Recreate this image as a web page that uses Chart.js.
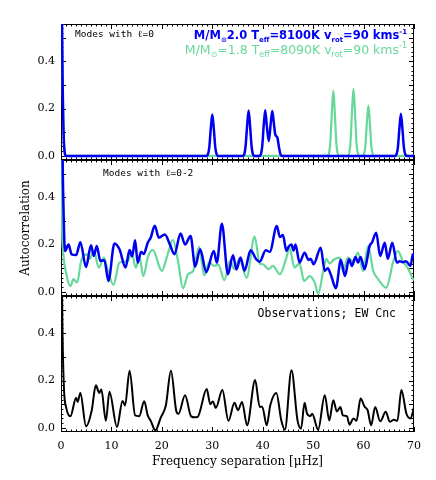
<!DOCTYPE html>
<html>
<head>
<meta charset="utf-8">
<script src="https://cdn.jsdelivr.net/npm/chart.js@4"></script>
<style>
  body { margin: 0; background: #fff; }
  #wrap { position: relative; width: 436px; height: 480px; }
  #wrap canvas { position: absolute; left: 0; }
</style>
</head>
<body>
<div id="wrap">
  <canvas id="panelL0" width="436" height="175" style="top:0px"></canvas>
  <canvas id="panelL02" width="436" height="166" style="top:145px"></canvas>
  <canvas id="panelObs" width="436" height="199" style="top:281px"></canvas>
</div>
<script>
// axis ticks
const xTickVals = [0, 10, 20, 30, 40, 50, 60, 70];
const yTickVals = [0.0, 0.2, 0.4];

// panel 1: modes with l=0
const l0BlueFreq = [0, 0.3, 0.6, 1.0, 28.8, 29.1, 29.4, 29.7, 30.0, 30.3, 30.6, 30.9, 31.2,
  36.0, 36.3, 36.6, 36.9, 37.2, 37.5, 37.8, 38.1, 38.4,
  39.3, 39.6, 39.9, 40.2, 40.5, 40.8, 41.2, 41.6, 41.9, 42.2, 42.5, 42.9, 43.2, 43.5, 43.9,
  66.2, 66.5, 66.8, 67.1, 67.4, 67.7, 68.0, 68.3, 68.6, 70];
const l0BlueAcf = [1.0, 0.35, 0.05, 0, 0, 0.005, 0.035, 0.115, 0.175, 0.115, 0.035, 0.005, 0,
  0, 0.005, 0.04, 0.125, 0.192, 0.125, 0.04, 0.005, 0,
  0, 0.005, 0.04, 0.13, 0.193, 0.13, 0.063, 0.14, 0.19, 0.14, 0.09, 0.078, 0.04, 0.008, 0,
  0, 0.005, 0.035, 0.115, 0.178, 0.115, 0.035, 0.005, 0, 0];
const l0GreenFreq = [0, 0.3, 0.6, 1.0, 52.8, 53.1, 53.4, 53.7, 54.0, 54.3, 54.6, 54.9, 55.2,
  56.8, 57.1, 57.4, 57.7, 58.0, 58.3, 58.6, 58.9, 59.2,
  59.75, 60.05, 60.35, 60.65, 60.95, 61.25, 61.55, 61.85, 62.15, 70];
const l0GreenAcf = [1.0, 0.35, 0.05, 0, 0, 0.008, 0.055, 0.18, 0.276, 0.18, 0.055, 0.008, 0,
  0, 0.008, 0.055, 0.185, 0.283, 0.185, 0.055, 0.008, 0,
  0, 0.006, 0.04, 0.14, 0.213, 0.14, 0.04, 0.006, 0, 0];

// panel 2: modes with l=0-2
const l02BlueFreq = [0, 0.4, 0.8, 1.5, 2.1, 3.0, 3.84, 4.96, 5.95, 6.5, 7.1, 7.8, 8.6, 9.4,
  10.6, 11.6, 12.8, 13.6, 14.1, 14.7, 15.2, 15.9, 16.4, 17.2, 17.8, 18.6, 19.4, 20.6,
  21.6, 22.5, 23.7, 24.6, 25.7, 26.6, 27.6, 28.8, 30.3, 30.9, 31.9, 33.1, 34.1, 34.8,
  35.6, 36.4, 37.6, 38.7, 39.4, 40.6, 41.4, 42.8, 43.4, 44.0, 44.7, 45.1, 45.7, 46.1,
  46.5, 47.3, 48.3, 49.1, 49.5, 50.1, 51.5, 52.3, 52.9, 53.6, 54.5, 55.5, 56.3, 57.1,
  57.7, 58.4, 58.9, 59.4, 60.2, 61.2, 61.7, 62.5, 63.3, 64.2, 64.8, 65.7, 66.6, 67.2,
  67.8, 68.4, 69.3, 69.8, 70];
const l02BlueAcf = [1.0, 0.45, 0.173, 0.20, 0.159, 0.156, 0.21, 0.105, 0.197, 0.152, 0.194, 0.131, 0.134, 0.046,
  0.205, 0.18, 0.103, 0.177, 0.15, 0.218, 0.124, 0.17, 0.16, 0.208, 0.23, 0.28, 0.229, 0.243,
  0.2, 0.159, 0.247, 0.2, 0.236, 0.107, 0.18, 0.084, 0.173, 0.124, 0.288, 0.075, 0.155, 0.095,
  0.145, 0.09, 0.176, 0.138, 0.128, 0.176, 0.17, 0.278, 0.232, 0.24, 0.173, 0.19, 0.2, 0.175,
  0.2, 0.124, 0.166, 0.135, 0.14, 0.117, 0.187, 0.089, 0.1, 0.067, 0.016, 0.135, 0.067, 0.138,
  0.11, 0.148, 0.124, 0.148, 0.096, 0.194, 0.21, 0.25, 0.152, 0.208, 0.14, 0.208, 0.124, 0.13,
  0.125, 0.13, 0.11, 0.159, 0.14];
const l02GreenFreq = [0, 0.2, 0.4, 1.07, 1.86, 2.5, 3.2, 4.0, 5.2, 5.7, 6.5, 7.5, 8.5, 9.3,
  10.4, 11.6, 13.3, 14.0, 14.8, 15.6, 16.3, 17.3, 18.2, 20.0, 21.1, 22.2, 23.2, 24.2,
  25.2, 26.2, 27.4, 28.4, 29.4, 30.4, 31.2, 32.4, 33.5, 34.4, 35.4, 36.8, 38.4, 39.4,
  40.0, 41.2, 42.0, 43.4, 44.7, 45.3, 46.3, 47.3, 48.2, 49.3, 50.3, 51.0, 52.0, 52.6,
  53.3, 54.0, 55.3, 55.9, 56.9, 57.9, 58.9, 59.9, 60.9, 61.9, 62.9, 64.5, 65.9, 66.8,
  67.8, 68.8, 69.8, 70];
const l02GreenAcf = [1.0, 0.3, 0.18, 0.075, 0.025, 0.054, 0.04, 0.131, 0.159, 0.14, 0.173, 0.103, 0.145, 0.09,
  0.03, 0.124, 0.131, 0.17, 0.103, 0.145, 0.067, 0.152, 0.178, 0.089, 0.155, 0.22, 0.131, 0.016,
  0.075, 0.089, 0.19, 0.07, 0.125, 0.11, 0.115, 0.05, 0.131, 0.096, 0.14, 0.06, 0.234, 0.12,
  0.117, 0.096, 0.11, 0.075, 0.145, 0.187, 0.103, 0.12, 0.046, 0.067, 0.04, -0.008, 0.089, 0.14,
  0.12, 0.135, 0.145, 0.089, 0.145, 0.13, 0.166, 0.089, 0.194, 0.09, 0.054, 0.018, 0.13, 0.173,
  0.13, 0.1, 0.054, 0.05];

// panel 3: observations EW Cnc
const obsFreq = [0, 0.3, 0.6, 1.0, 1.86, 3.0, 3.3, 3.84, 4.96, 6.1, 6.9, 7.6, 8.0, 8.9, 9.6,
  11.1, 12.2, 12.7, 13.6, 14.7, 15.5, 16.5, 17.2, 17.8, 18.7, 19.8, 20.8, 21.8, 22.9,
  23.3, 24.6, 25.8, 26.5, 27.1, 28.9, 29.6, 30.1, 30.7, 32.0, 33.2, 34.4, 35.1, 35.9,
  36.9, 38.5, 39.4, 39.9, 40.8, 41.5, 42.7, 43.7, 44.4, 45.7, 46.9, 47.6, 48.3, 48.8,
  49.4, 49.8, 51.0, 52.3, 53.2, 54.0, 54.7, 55.4, 55.9, 56.7, 57.2, 58.0, 58.6, 59.4,
  60.2, 60.8, 61.5, 62.3, 63.3, 64.4, 65.2, 66.0, 66.7, 67.5, 68.5, 69.3, 70];
const obsAcf = [1.0, 0.4, 0.16, 0.089, 0.049, 0.128, 0.11, 0.148, 0.007, 0.075, 0.18, 0.148, 0.162, 0.03, 0.153,
  0.004, 0.114, 0.095, 0.241, 0.053, 0.05, 0.113, 0.053, 0.03, -0.01, 0.045, 0.096, 0.241, 0.068,
  0.06, 0.138, 0.049, 0.045, 0.047, 0.164, 0.1, 0.112, 0.085, 0.16, 0.03, 0.106, 0.075, 0.11,
  0.011, 0.202, 0.089, 0.09, 0.011, 0.096, 0.148, 0.03, -0.007, 0.244, 0.032, -0.003, 0.106, 0.06,
  0.05, 0.06, -0.007, 0.138, 0.032, 0.117, 0.07, 0.088, 0.053, 0.05, 0.014, 0.04, 0.03, 0.124,
  0.09, 0.075, 0.011, 0.089, 0.028, 0.068, 0.026, 0.035, 0.03, 0.16, 0.06, 0.04, 0.087];

const BLUE = '#0000f0';
const GREEN = '#66d99a';
const BLACK = '#000000';
const SERIF = '"DejaVu Serif", serif';
const MONO = '"DejaVu Sans Mono", monospace';
const SANS = '"DejaVu Sans", sans-serif';

function pairs(xs, ys) {
  return xs.map((x, i) => ({ x: x, y: ys[i] }));
}

function lineSet(xs, ys, color, width) {
  return {
    data: pairs(xs, ys),
    borderColor: color,
    borderWidth: width,
    pointRadius: 0,
    cubicInterpolationMode: 'monotone',
    borderJoinStyle: 'round',
    fill: false
  };
}

// IDL-like frame with inward ticks on all four sides
const idlFrame = {
  id: 'idlFrame',
  beforeDatasetsDraw(chart) {
    const { ctx, chartArea: a, scales: { x, y } } = chart;
    ctx.save();
    ctx.strokeStyle = '#000';
    ctx.lineWidth = 1;
    ctx.strokeRect(a.left + 0.5, a.top + 0.5, a.right - a.left - 1, a.bottom - a.top - 1);
    ctx.beginPath();
    for (let v = 0; v <= 70; v++) {
      const px = Math.round(x.getPixelForValue(v)) + 0.5;
      const len = v % 10 === 0 ? 5 : 2.5;
      ctx.moveTo(px, a.bottom); ctx.lineTo(px, a.bottom - len);
      ctx.moveTo(px, a.top); ctx.lineTo(px, a.top + len);
    }
    for (let k = 0; k <= 27; k++) {
      const py = Math.round(y.getPixelForValue(k * 0.02)) + 0.5;
      const len = k % 5 === 0 ? 5 : 2.5;
      ctx.moveTo(a.left, py); ctx.lineTo(a.left + len, py);
      ctx.moveTo(a.right, py); ctx.lineTo(a.right - len, py);
    }
    ctx.stroke();
    ctx.restore();
  }
};

// text with sub/superscripts, parts: [text, 'n'|'sub'|'sup']
function drawRich(ctx, parts, x, y, align, size, weight, family, color) {
  const fontFor = (kind) => {
    const s = kind === 'n' ? size : Math.round(size * 0.6);
    return weight + ' ' + s + 'px ' + family;
  };
  let total = 0;
  parts.forEach(([t, k]) => { ctx.font = fontFor(k); total += ctx.measureText(t).width; });
  let cx = align === 'right' ? x - total : x;
  ctx.fillStyle = color;
  ctx.textBaseline = 'alphabetic';
  ctx.textAlign = 'left';
  parts.forEach(([t, k]) => {
    ctx.font = fontFor(k);
    const dy = k === 'sub' ? size * 0.25 : (k === 'sup' ? -size * 0.45 : 0);
    ctx.fillText(t, cx, y + dy);
    cx += ctx.measureText(t).width;
  });
}

function notes(list) {
  return {
    id: 'notes',
    afterDraw(chart) {
      const { ctx, chartArea: a } = chart;
      ctx.save();
      list.forEach(n => drawRich(ctx, n.parts, n.right ? a.right - n.dx : a.left + n.dx,
        a.top + n.dy, n.right ? 'right' : 'left', n.size, n.weight || 'normal', n.family, n.color));
      ctx.restore();
    }
  };
}

function panelOptions(showX, yTitle, padding) {
  return {
    responsive: false,
    animation: false,
    devicePixelRatio: 1,
    layout: { padding: padding },
    plugins: { legend: { display: false }, tooltip: { enabled: false } },
    scales: {
      x: {
        type: 'linear', min: 0, max: 70,
        display: showX,
        grid: { display: false, drawTicks: false },
        border: { display: false },
        afterBuildTicks: (s) => { s.ticks = xTickVals.map(v => ({ value: v })); },
        afterFit: (s) => { if (showX) s.height = 48; },
        ticks: { color: '#000', font: { family: SERIF, size: 11 }, padding: 8, maxRotation: 0 },
        title: {
          display: showX, text: 'Frequency separation [μHz]', color: '#000',
          font: { family: SERIF, size: 12 }, padding: { top: 0, bottom: 11 }
        }
      },
      y: {
        type: 'linear', min: -0.017, max: 0.557,
        grid: { display: false, drawTicks: false },
        border: { display: false },
        afterBuildTicks: (s) => { s.ticks = yTickVals.map(v => ({ value: v })); },
        afterFit: (s) => { s.width = 61; },
        ticks: { color: '#000', font: { family: SERIF, size: 11 }, padding: 6,
          callback: (v) => Number(v).toFixed(1) },
        title: {
          display: yTitle, text: 'Autocorrelation', color: '#000',
          font: { family: SERIF, size: 12 }, padding: { top: 19, bottom: 0 }
        }
      }
    }
  };
}

// 1) l=0 modes
new Chart(document.getElementById('panelL0'), {
  type: 'line',
  data: { datasets: [lineSet(l0BlueFreq, l0BlueAcf, BLUE, 2.5), lineSet(l0GreenFreq, l0GreenAcf, GREEN, 2.2)] },
  options: panelOptions(false, false, { top: 24, right: 22, bottom: 15, left: 0 }),
  plugins: [idlFrame, notes([
    { parts: [['Modes with ℓ=0', 'n']], dx: 14, dy: 13, size: 9.5, family: MONO, color: BLACK },
    { parts: [['M/M', 'n'], ['⊙', 'sub'], ['2.0 T', 'n'], ['eff', 'sub'], ['=8100K v', 'n'], ['rot', 'sub'],
      ['=90 kms', 'n'], ['-1', 'sup']], right: true, dx: 7, dy: 15, size: 11.5, weight: 'bold', family: SANS, color: BLUE },
    { parts: [['M/M', 'n'], ['⊙', 'sub'], ['=1.8 T', 'n'], ['eff', 'sub'], ['=8090K v', 'n'], ['rot', 'sub'],
      ['=90 kms', 'n'], ['-1', 'sup']], right: true, dx: 7, dy: 30, size: 12.5, family: SANS, color: GREEN }
  ])]
});

// 2) l=0-2 modes
new Chart(document.getElementById('panelL02'), {
  type: 'line',
  data: { datasets: [lineSet(l02BlueFreq, l02BlueAcf, BLUE, 2.5), lineSet(l02GreenFreq, l02GreenAcf, GREEN, 2.2)] },
  options: panelOptions(false, true, { top: 15, right: 22, bottom: 15, left: 0 }),
  plugins: [idlFrame, notes([
    { parts: [['Modes with ℓ=0-2', 'n']], dx: 42, dy: 16, size: 9.5, family: MONO, color: BLACK }
  ])]
});

// 3) observations
new Chart(document.getElementById('panelObs'), {
  type: 'line',
  data: { datasets: [lineSet(obsFreq, obsAcf, BLACK, 2)] },
  options: panelOptions(true, false, { top: 15, right: 22, bottom: 0, left: 0 }),
  plugins: [idlFrame, notes([
    { parts: [['Observations; EW Cnc', 'n']], right: true, dx: 18, dy: 21, size: 11.5, family: MONO, color: BLACK }
  ])]
});
</script>
</body>
</html>
